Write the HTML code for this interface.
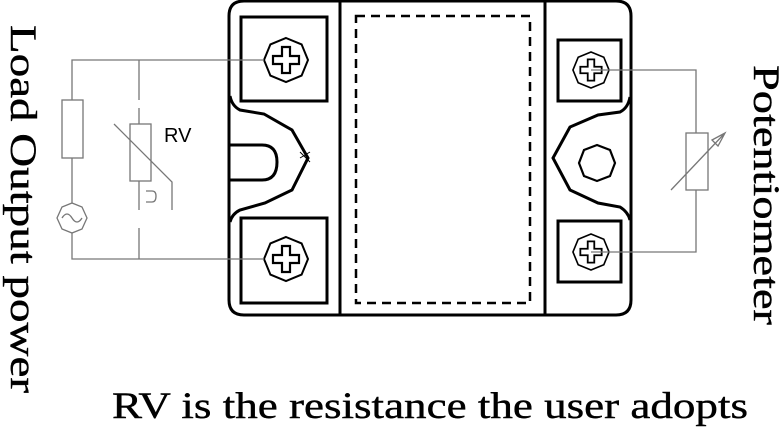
<!DOCTYPE html>
<html><head><meta charset="utf-8"><style>html,body{margin:0;padding:0;background:#fff}svg{display:block}.ser{font-family:"Liberation Serif","Times New Roman",Times,serif}.san{font-family:"Liberation Sans",Arial,sans-serif}</style></head><body>
<svg width="782" height="427" viewBox="0 0 782 427" xmlns="http://www.w3.org/2000/svg">
<defs>
<g id="scr"><polygon points="0,-22 15.6,-15.6 22,0 15.6,15.6 0,22 -15.6,15.6 -22,0 -15.6,-15.6" fill="none" stroke="#000" stroke-width="2"/>
<path d="M-4,-13 H4 V-4 H13 V4 H4 V13 H-4 V4 H-13 V-4 H-4 Z" fill="none" stroke="#000" stroke-width="2.2"/></g>
</defs>
<g fill="none" stroke="#000" stroke-width="3">
<path d="M244,1 H616 Q631,1 631,16 V300 Q631,315 616,315 H244 Q229,315 229,300 V16 Q229,1 244,1 Z"/>
<line x1="340" y1="1" x2="340" y2="315"/>
<line x1="545" y1="1" x2="545" y2="315"/>
<rect x="241" y="17" width="86" height="84"/>
<rect x="241" y="218" width="86" height="85"/>
<rect x="558" y="40" width="63" height="61"/>
<rect x="558" y="221" width="63" height="61"/>
<path d="M230,96 Q232,106 240,110 L264,114 L292,130 L308,158 L292,190 L265,203 L240,210 Q232,214 230,222"/>
<path d="M230,145 H262 Q277,145 277,162 Q277,180 262,180 H230"/>
<path d="M630,97 Q628,108 620,112 L598,115 L570,127 L553,158 L570,190 L598,203 L620,207 Q628,212 630,220"/>
<polygon points="597,145 610,150 615,163 610,176 597,181 584,176 579,163 584,150" stroke-width="2.2"/>
</g>
<rect x="356" y="16" width="174" height="287" fill="none" stroke="#000" stroke-width="2.5" stroke-dasharray="9,6"/>
<g fill="none" stroke="#000" stroke-width="1"><line x1="300" y1="158" x2="310" y2="152"/><line x1="300" y1="152" x2="310" y2="162"/></g>
<use href="#scr" x="286" y="60"/>
<use href="#scr" x="286" y="259"/>
<use href="#scr" x="591" y="70" transform="translate(591 70) scale(.82) translate(-591 -70)"/>
<use href="#scr" x="591" y="252" transform="translate(591 252) scale(.82) translate(-591 -252)"/>
<g fill="none" stroke="#777" stroke-width="1.3">
<path d="M264,60 H72 V100 M72,158 V203 M72,233 V259 H264"/>
<rect x="62" y="100" width="21" height="58"/>
<polygon points="72,203 82,207 87,218 82,229 72,233 62,229 57,218 62,207"/>
<path d="M62,218 Q67,210 72,218 Q77,226 82,218"/>
<path d="M139,60 V100 M139,108 V124 M139,181 V210 M139,228 V259"/>
<rect x="130" y="124" width="21" height="57"/>
<path d="M114,124 L172,182 V210"/>
<path d="M146,191 H152 Q156,191 156,196 Q156,202 152,202 H146"/>
<path d="M591,70 H696 V133 M696,190 V252 H591"/>
<rect x="686" y="133" width="22" height="57"/>
<path d="M671,190 L725,133 M712,140 L725,133 L718,146 Z"/>
</g>
<text class="san" x="164" y="142" font-size="20" fill="#000">RV</text>
<g class="ser" font-size="37" fill="#000" stroke="#000" stroke-width="0.4">
<text x="112" y="418" textLength="636" lengthAdjust="spacingAndGlyphs">RV is the resistance the user adopts</text>
<text transform="translate(11 25) rotate(90)" textLength="368" lengthAdjust="spacingAndGlyphs">Load  Output power</text>
<text transform="translate(754 65) rotate(90)" textLength="260" lengthAdjust="spacingAndGlyphs">Potentiometer</text>
</g>
</svg>
</body></html>
